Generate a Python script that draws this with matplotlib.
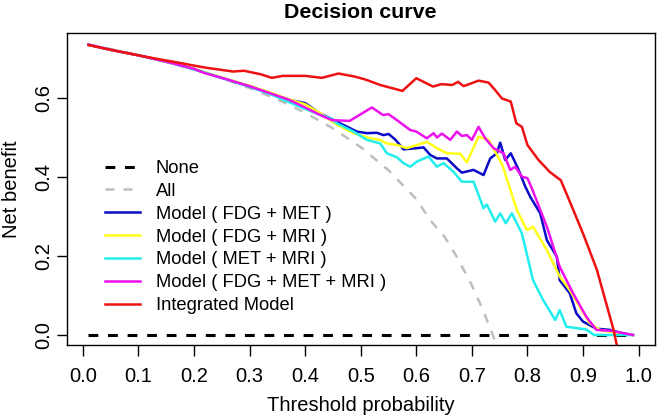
import matplotlib
matplotlib.use("Agg")
import matplotlib.pyplot as plt

plt.rcParams['font.family'] = ['Liberation Sans', 'DejaVu Sans']

# net benefit: treat none / treat all
x_none = [0.01, 0.99]
y_none = [0.0, 0.0]

x_all = [0.01, 0.05, 0.10, 0.15, 0.20, 0.25, 0.30, 0.35, 0.40, 0.45, 0.50,
         0.55, 0.60, 0.625, 0.65, 0.675, 0.70, 0.72, 0.74, 0.75]
y_all = [0.7353, 0.7239, 0.7086, 0.6914, 0.6721, 0.6503, 0.6253, 0.5965,
         0.5628, 0.5231, 0.4754, 0.4171, 0.3443, 0.2905, 0.2506, 0.1929,
         0.1256, 0.0632, -0.0089, -0.0492]

# Model ( FDG + MET )
x_fdg_met = [0.01, 0.05, 0.10, 0.15, 0.20, 0.25, 0.30, 0.337, 0.373, 0.40,
             0.427, 0.457, 0.493, 0.511, 0.529, 0.541, 0.55, 0.562, 0.577,
             0.601, 0.613, 0.625, 0.637, 0.655, 0.673, 0.682, 0.703, 0.721,
             0.733, 0.745, 0.751, 0.76, 0.77, 0.783, 0.796, 0.805, 0.823,
             0.835, 0.853, 0.858, 0.876, 0.888, 0.90, 0.924, 0.948, 0.972, 0.99]
y_fdg_met = [0.735, 0.722, 0.708, 0.692, 0.673, 0.651, 0.629, 0.611, 0.595,
             0.587, 0.561, 0.540, 0.515, 0.511, 0.512, 0.506, 0.509, 0.495,
             0.470, 0.473, 0.475, 0.456, 0.447, 0.447, 0.422, 0.411, 0.418,
             0.405, 0.447, 0.460, 0.487, 0.443, 0.460, 0.422, 0.376, 0.350,
             0.308, 0.240, 0.198, 0.139, 0.106, 0.055, 0.034, 0.016, 0.013,
             0.004, 0.0]

# Model ( FDG + MRI )
x_fdg_mri = [0.01, 0.05, 0.10, 0.15, 0.20, 0.25, 0.30, 0.337, 0.37, 0.40,
             0.427, 0.457, 0.487, 0.517, 0.535, 0.547, 0.565, 0.583, 0.601,
             0.619, 0.637, 0.655, 0.679, 0.691, 0.697, 0.712, 0.730, 0.742,
             0.755, 0.781, 0.799, 0.81, 0.835, 0.858, 0.876, 0.894, 0.912,
             0.93, 0.96, 0.99]
y_fdg_mri = [0.735, 0.722, 0.708, 0.692, 0.674, 0.652, 0.631, 0.614, 0.597,
             0.584, 0.562, 0.532, 0.511, 0.498, 0.494, 0.485, 0.481, 0.473,
             0.481, 0.489, 0.473, 0.460, 0.459, 0.437, 0.456, 0.502, 0.494,
             0.464, 0.430, 0.316, 0.266, 0.274, 0.215, 0.148, 0.114, 0.072,
             0.030, 0.013, 0.005, 0.0]

# Model ( MET + MRI )
x_met_mri = [0.01, 0.05, 0.10, 0.15, 0.20, 0.25, 0.30, 0.337, 0.37, 0.397,
             0.427, 0.445, 0.457, 0.487, 0.511, 0.535, 0.547, 0.565, 0.577,
             0.589, 0.601, 0.622, 0.637, 0.649, 0.667, 0.682, 0.703, 0.721,
             0.727, 0.742, 0.751, 0.761, 0.772, 0.79, 0.81, 0.828, 0.85,
             0.858, 0.87, 0.906, 0.92, 0.99]
y_met_mri = [0.735, 0.722, 0.708, 0.692, 0.673, 0.651, 0.629, 0.610, 0.590,
             0.574, 0.557, 0.549, 0.536, 0.515, 0.494, 0.485, 0.460, 0.450,
             0.435, 0.426, 0.439, 0.452, 0.426, 0.435, 0.413, 0.388, 0.388,
             0.321, 0.330, 0.287, 0.308, 0.283, 0.308, 0.257, 0.139, 0.089,
             0.038, 0.063, 0.021, 0.014, 0.0, 0.0]

# Model ( FDG + MET + MRI )
x_all3 = [0.01, 0.05, 0.10, 0.15, 0.20, 0.217, 0.25, 0.30, 0.337, 0.37, 0.397,
          0.427, 0.448, 0.48, 0.493, 0.52, 0.54, 0.55, 0.565, 0.589, 0.60,
          0.619, 0.631, 0.637, 0.646, 0.661, 0.673, 0.682, 0.691, 0.70, 0.712,
          0.724, 0.739, 0.757, 0.769, 0.778, 0.79, 0.80, 0.808, 0.835, 0.858,
          0.882, 0.906, 0.924, 0.953, 0.99]
y_all3 = [0.735, 0.722, 0.708, 0.692, 0.674, 0.664, 0.651, 0.630, 0.612,
          0.596, 0.578, 0.557, 0.544, 0.542, 0.553, 0.576, 0.557, 0.559,
          0.544, 0.519, 0.515, 0.498, 0.511, 0.500, 0.510, 0.494, 0.515,
          0.504, 0.506, 0.494, 0.527, 0.498, 0.473, 0.460, 0.418, 0.426,
          0.401, 0.397, 0.371, 0.274, 0.173, 0.106, 0.046, 0.013, 0.010, 0.0]

# Integrated Model
x_integ = [0.01, 0.05, 0.10, 0.13, 0.17, 0.20, 0.22, 0.25, 0.27, 0.29, 0.32,
           0.34, 0.36, 0.40, 0.43, 0.46, 0.49, 0.51, 0.535, 0.575, 0.60, 0.63,
           0.645, 0.665, 0.675, 0.685, 0.695, 0.712, 0.73, 0.742, 0.754, 0.77,
           0.78, 0.79, 0.80, 0.82, 0.84, 0.855, 0.86, 0.88, 0.90, 0.925, 0.94,
           0.955, 0.972]
y_integ = [0.734, 0.722, 0.708, 0.700, 0.690, 0.682, 0.677, 0.671, 0.667,
           0.669, 0.660, 0.651, 0.656, 0.656, 0.651, 0.662, 0.654, 0.646,
           0.633, 0.618, 0.650, 0.629, 0.635, 0.633, 0.641, 0.630, 0.635,
           0.644, 0.639, 0.620, 0.599, 0.591, 0.536, 0.527, 0.481, 0.443,
           0.413, 0.397, 0.392, 0.325, 0.257, 0.165, 0.089, 0.013, -0.10]

labels = ['None', 'All', 'Model ( FDG + MET )', 'Model ( FDG + MRI )',
          'Model ( MET + MRI )', 'Model ( FDG + MET + MRI )', 'Integrated Model']

W, H = 657, 419
fig = plt.figure(figsize=(W / 100, H / 100), dpi=100)
left, right, top, bottom = 66.7, 654.8, 33.3, 345.0
ax = fig.add_axes([left / W, 1 - bottom / H, (right - left) / W, (bottom - top) / H])

ax.plot(x_none, y_none, color='black', lw=2.2, dashes=(3.2, 3.2), label=labels[0])
ax.plot(x_all, y_all, color='#bebebe', lw=1.8, dashes=(3.6, 3.6), label=labels[1])
ax.plot(x_fdg_met, y_fdg_met, color='#0a0ac8', lw=1.8, label=labels[2])
ax.plot(x_fdg_mri, y_fdg_mri, color='#ffff1a', lw=1.8, label=labels[3])
ax.plot(x_met_mri, y_met_mri, color='#22eeee', lw=1.8, label=labels[4])
ax.plot(x_all3, y_all3, color='#ee11ee', lw=1.8, label=labels[5])
ax.plot(x_integ, y_integ, color='#ee1111', lw=1.8, label=labels[6])

ax.set_xlim(0.01 - 0.0392, 0.99 + 0.0392)
ax.set_ylim(-0.0253, 0.7638)
ax.set_xticks([i / 10 for i in range(11)])
ax.set_xticklabels(['%.1f' % (i / 10) for i in range(11)])
ax.set_yticks([0.0, 0.2, 0.4, 0.6])
ax.set_yticklabels(['0.0', '0.2', '0.4', '0.6'], rotation=90, va='center')
ax.tick_params(axis='x', direction='out', length=8, width=1, labelsize=14.5, pad=8)
ax.tick_params(axis='y', direction='out', length=7, width=1, labelsize=14.5, pad=3)
for s in ax.spines.values():
    s.set_linewidth(1.0)

ax.legend(loc='upper left', bbox_to_anchor=(0.065, 0.5935), frameon=False,
          fontsize=13.2, handlelength=1.9, handletextpad=0.87, labelspacing=0.32,
          borderpad=0, borderaxespad=0)

cx = (left + right) / 2 / W
fig.text(cx, 1 - 13 / H, 'Decision curve', ha='center', va='center',
         fontsize=15.4, fontweight='bold')
fig.text(cx, 1 - 405 / H, 'Threshold probability', ha='center', va='center',
         fontsize=14.5)
fig.text(12 / W, 1 - 189 / H, 'Net benefit', ha='center', va='center',
         fontsize=14.5, rotation=90)

fig.savefig('out.png', dpi=100)
